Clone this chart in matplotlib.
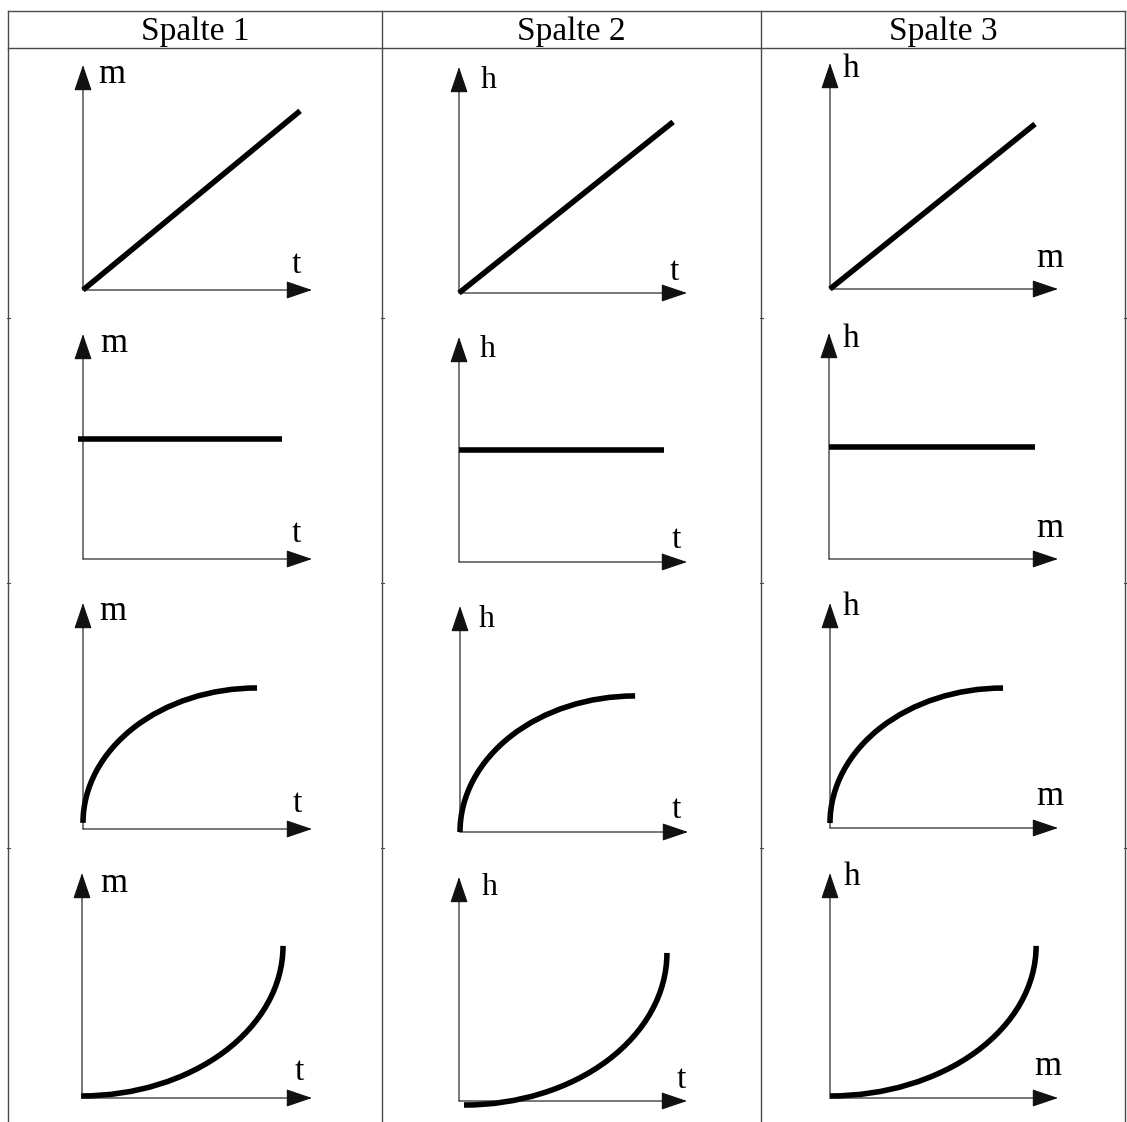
import matplotlib
matplotlib.use("Agg")
import matplotlib.pyplot as plt
from matplotlib.patches import Arc

# ---------------- data ----------------
columns = ["Spalte 1", "Spalte 2", "Spalte 3"]
y_axis_labels = ["m", "h", "h"]
x_axis_labels = ["t", "t", "m"]
row_shapes = ["linear", "constant", "concave", "convex"]

# values as fractions of each small axis (x: horizontal axis, y: vertical axis)
linear_end_x = [0.948, 0.939, 0.899]
linear_end_y = [0.796, 0.757, 0.730]

constant_start_x = [-0.022, 0.0, 0.0]
constant_end_x = [0.869, 0.899, 0.900]
constant_level = [0.533, 0.498, 0.496]

concave_start_y = [0.027, 0.0, 0.022]
concave_end_x = [0.760, 0.768, 0.759]
concave_end_y = [0.624, 0.602, 0.622]

convex_start_x = [-0.004, 0.022, 0.0]
convex_start_y = [0.009, -0.018, 0.009]
convex_end_x = [0.874, 0.912, 0.904]
convex_end_y = [0.676, 0.661, 0.676]

# ---------------- layout (pixels) ----------------
W, H = 1127, 1122
origin_x = [[83, 459, 830], [83, 459, 829], [83, 460, 830], [82, 459, 830]]
origin_y = [[290, 293, 289], [559, 562, 559], [829, 832, 828], [1098, 1101, 1098]]
tip_x = [[312, 687, 1058], [312, 687, 1058], [312, 688, 1058], [312, 687, 1058]]
tip_y = [[65, 67, 63], [334, 337, 333], [603, 606, 603], [873, 877, 873]]

ylab_pos = [[(98, 83), (481, 88), (843, 77)],
            [(100, 352), (480, 357), (843, 347)],
            [(99, 620), (479, 627), (843, 615)],
            [(100, 892), (482, 895), (844, 885)]]
xlab_pos = [[(292, 273), (670, 280), (1036, 267)],
            [(292, 542), (672, 548), (1036, 537)],
            [(293, 812), (672, 818), (1036, 805)],
            [(295, 1080), (677, 1088), (1034, 1075)]]
ylab_size = [25, 23, 24]
xlab_size = [24, 24, 25]

SERIF = ["Liberation Serif", "DejaVu Serif"]
LW = 4.0

fig = plt.figure(figsize=(W / 100, H / 100), dpi=100)
bg = fig.add_axes([0, 0, 1, 1])
bg.set_xlim(0, W)
bg.set_ylim(H, 0)
bg.axis("off")

# table grid
grid_c = "#4a4a4a"
left, right, top, head_bottom = 8, 1125, 11, 47.5
col_edges = [left, 382, 761, right]
bg.plot([left, right], [top, top], color=grid_c, lw=1.0)
bg.plot([left, right], [head_bottom, head_bottom], color=grid_c, lw=1.0)
for xe in col_edges:
    bg.plot([xe, xe], [top, H], color=grid_c, lw=1.0)
    for yr in [318, 583, 848]:
        bg.plot([xe - 1.5, xe + 1.5], [yr, yr], color=grid_c, lw=0.8)

for j, name in enumerate(columns):
    cx = (col_edges[j] + col_edges[j + 1]) / 2
    bg.text(cx, 40, name, ha="center", va="baseline", fontsize=24,
            family=SERIF, color="black")

# graphs
for i, shape in enumerate(row_shapes):
    for j in range(3):
        ox, oy = origin_x[i][j], origin_y[i][j]
        wx = tip_x[i][j] - ox
        hy = oy - tip_y[i][j]
        ax = fig.add_axes([ox / W, 1 - oy / H, wx / W, hy / H])
        ax.set_xlim(0, 1)
        ax.set_ylim(0, 1)
        ax.axis("off")
        ax.patch.set_alpha(0)

        arrow = dict(arrowstyle="-|>,head_length=16.5,head_width=5.6",
                     mutation_scale=1, color="#111111", lw=0.8,
                     shrinkA=0, shrinkB=0)
        ax.annotate("", xy=(0, 1), xytext=(0, 0), arrowprops=arrow,
                    annotation_clip=False)
        ax.annotate("", xy=(1, 0), xytext=(0, 0), arrowprops=arrow,
                    annotation_clip=False)

        if shape == "linear":
            ax.plot([0, linear_end_x[j]], [0, linear_end_y[j]], color="black",
                    lw=LW, solid_capstyle="butt", clip_on=False)
        elif shape == "constant":
            ax.plot([constant_start_x[j], constant_end_x[j]],
                    [constant_level[j], constant_level[j]], color="black",
                    lw=LW, solid_capstyle="butt", clip_on=False)
        elif shape == "concave":
            x0, y0 = 0.0, concave_start_y[j]
            x1, y1 = concave_end_x[j], concave_end_y[j]
            arc = Arc((x1, y0), 2 * (x1 - x0), 2 * (y1 - y0), theta1=90,
                      theta2=180, color="black", lw=LW, capstyle="butt",
                      clip_on=False)
            ax.add_patch(arc)
        elif shape == "convex":
            x0, y0 = convex_start_x[j], convex_start_y[j]
            x1, y1 = convex_end_x[j], convex_end_y[j]
            arc = Arc((x0, y1), 2 * (x1 - x0), 2 * (y1 - y0), theta1=270,
                      theta2=360, color="black", lw=LW, capstyle="butt",
                      clip_on=False)
            ax.add_patch(arc)

        lx, ly = ylab_pos[i][j]
        bg.text(lx, ly, y_axis_labels[j], ha="left", va="baseline",
                fontsize=ylab_size[j], family=SERIF, color="black")
        tx, ty = xlab_pos[i][j]
        bg.text(tx, ty, x_axis_labels[j], ha="left", va="baseline",
                fontsize=xlab_size[j], family=SERIF, color="black")

fig.savefig("out.png", dpi=100, facecolor="white")
